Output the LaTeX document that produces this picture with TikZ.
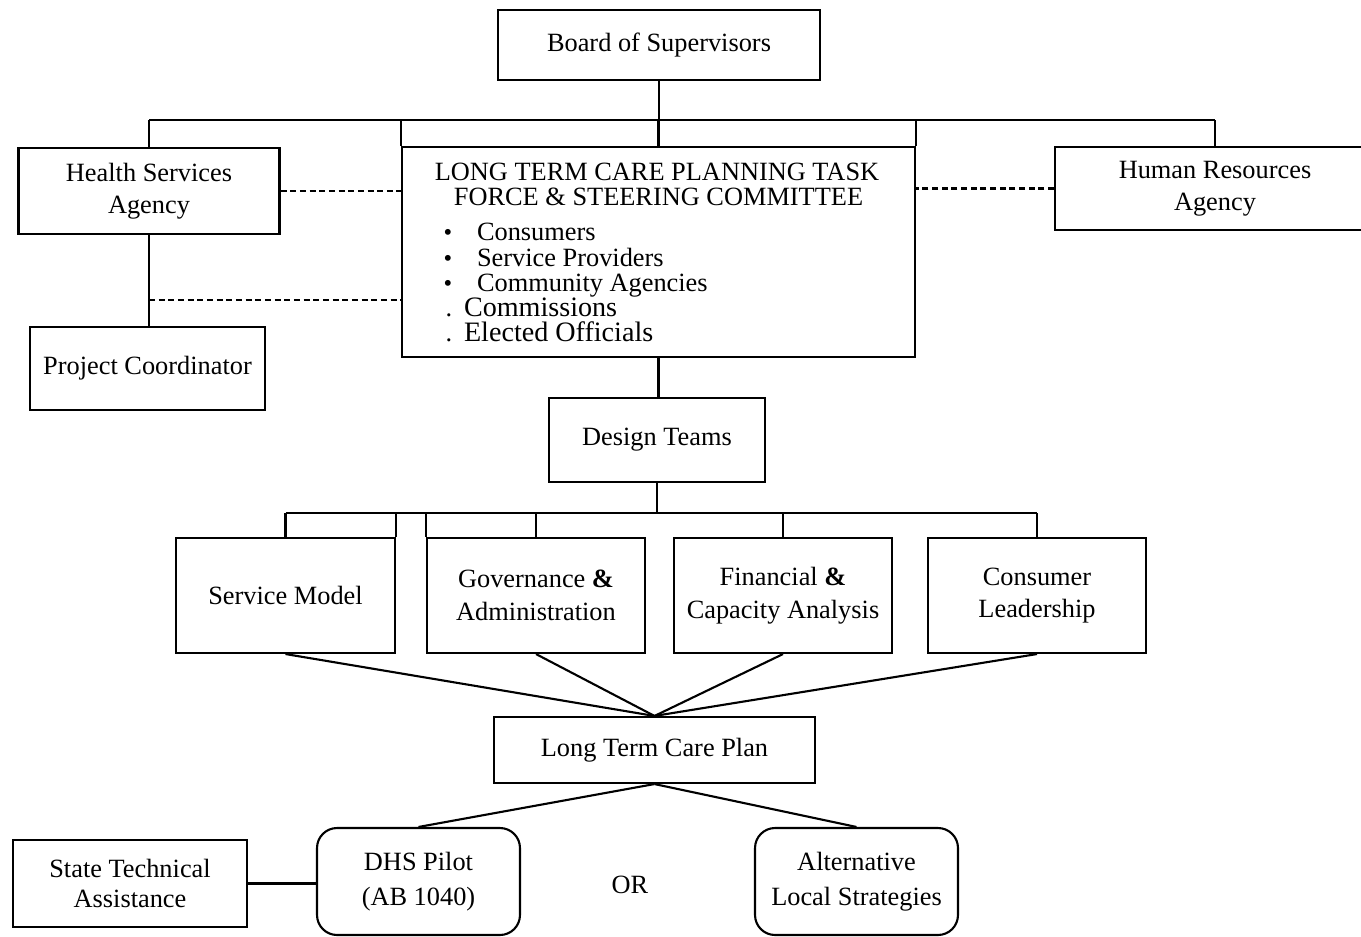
\documentclass[tikz,border=0pt]{standalone}
\usepackage{fontspec}
\setmainfont{Liberation Serif}
\usetikzlibrary{calc}

\begin{document}
\begin{tikzpicture}[x=0.02cm,y=-0.02cm,line width=1.2pt,
    box/.style={draw,inner sep=0pt,align=center,font=\fontsize{15}{18.5}\selectfont},
    team/.style={box,minimum width=4.37cm,minimum height=2.3cm},
    pilot/.style={box,rounded corners=0.4cm,minimum width=4.06cm,minimum height=2.14cm,font=\fontsize{15}{20}\selectfont},
    txt/.style={anchor=base,inner sep=0pt,font=\fontsize{15}{18}\selectfont},
    link/.style={dash pattern=on 3.5pt off 2pt}]
    \useasboundingbox (0,0) rectangle (1361,936);

    \node (board) [box,minimum width=6.44cm,minimum height=1.4cm] at (659,45) {Board of Supervisors};
    \node (health) [box,minimum width=5.22cm,minimum height=1.72cm] at (149,191) {Health Services\\Agency};
    \node (ltc) [box,minimum width=10.26cm,minimum height=4.2cm] at (658.5,252) {};
    \node (hr) [box,minimum width=6.4cm,minimum height=1.66cm] at (1215,188.5) {Human Resources\\Agency};
    \node (pc) [box,minimum width=4.7cm,minimum height=1.66cm] at (147.5,368.5) {Project Coordinator};

    \node (title1) [txt] at (657,180) {LONG TERM CARE PLANNING TASK};
    \node (title2) [txt] at (658.5,205) {FORCE \& STEERING COMMITTEE};
    \foreach \txt/\y [count=\i] in {Consumers/240,Service Providers/266.5,Community Agencies/291.5} {
        \node (dot\i) [txt,font=\fontsize{14}{14}\selectfont] at (448,\y) {\textbullet};
        \node (item\i) [txt,anchor=base west] at (476,\y) {\txt};
    }
    \foreach \txt/\y [count=\i] in {Commissions/316,Elected Officials/341.5} {
        \node (pt\i) [txt] at (449,\y) {.};
        \node (mem\i) [txt,anchor=base west,font=\fontsize{16}{16}\selectfont] at (463,\y) {\txt};
    }

    \node (design) [box,minimum width=4.32cm,minimum height=1.68cm] at (657,440) {Design Teams};
    \node (sm) [team] at (285.5,595.5) {Service Model};
    \node (gov) [team] at (536,595.5) {Governance \textbf{\&}\\Administration};
    \node (fin) [team] at (783,595.5) {Financial \textbf{\&}\\Capacity Analysis};
    \node (cl) [team] at (1037,595.5) {Consumer\\Leadership};

    \node (ltcp) [box,minimum width=6.42cm,minimum height=1.32cm] at (654.5,750) {Long Term Care Plan};
    \node (sta) [box,minimum width=4.68cm,minimum height=1.74cm,font=\fontsize{15}{17.5}\selectfont] at (130,883.5) {State Technical\\Assistance};
    \node (dhs) [pilot] at (418.5,881.5) {DHS Pilot\\(AB 1040)};
    \node (alt) [pilot] at (856.5,881.5) {Alternative\\Local Strategies};
    \node (or) [txt,anchor=center] at (630,885) {OR};

    % top of the chart
    \coordinate (top) at (658,120);
    \draw (health.north |- top) -- (hr.north |- top);
    \draw (board.south) -- (board.south |- top);
    \foreach \n in {health,ltc,hr} \draw (\n.north) -- (\n.north |- top);
    \draw (ltc.north west) -- (ltc.north west |- top) (ltc.north east) -- (ltc.north east |- top);
    \draw[link] (health.east) -- (health.east -| ltc.west);
    \draw[link] (hr.west) -- (hr.west -| ltc.east);
    \draw (health.south) -- (health.south |- pc.north);
    \coordinate (pcj) at (149,300);
    \draw[link] (pcj) -- (pcj -| ltc.west);

    % design teams
    \draw (ltc.south) -- (ltc.south |- design.north);
    \coordinate (mid) at (657,513);
    \draw (design.south) -- (mid);
    \draw (sm.north |- mid) -- (cl.north |- mid);
    \foreach \n in {sm,gov,fin,cl} {
        \draw (\n.north) -- (\n.north |- mid);
        \draw (\n.south) -- (ltcp.north);
    }
    \draw (sm.north east) -- (sm.north east |- mid) (gov.north west) -- (gov.north west |- mid);

    % plan
    \draw (ltcp.south) -- (dhs.north);
    \draw (ltcp.south) -- (alt.north);
    \draw (sta.east) -- (sta.east -| dhs.west);
\end{tikzpicture}
\end{document}
